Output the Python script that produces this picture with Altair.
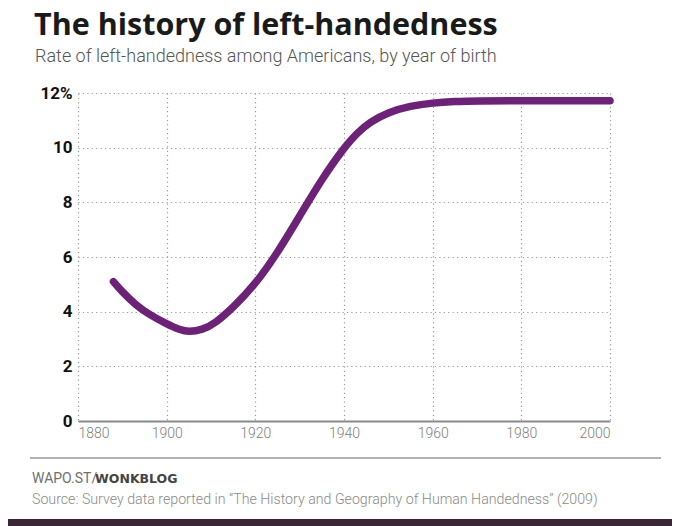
import altair as alt
import pandas as pd

# ---- data ----
years = [1888, 1890, 1893, 1896, 1900, 1903, 1905, 1908, 1911, 1915, 1920, 1925,
         1930, 1935, 1940, 1943, 1946, 1950, 1955, 1960, 1965, 1970, 1980, 1990, 2000]
rates = [5.1, 4.72, 4.25, 3.9, 3.55, 3.33, 3.26, 3.33, 3.58, 4.15, 5.0, 6.15,
         7.5, 8.85, 10.0, 10.55, 10.95, 11.3, 11.53, 11.64, 11.69, 11.71, 11.72, 11.72, 11.72]
x_ticks = [1880, 1900, 1920, 1940, 1960, 1980, 2000]
y_ticks = [0, 2, 4, 6, 8, 10, 12]

title_text = "The history of left-handedness"
subtitle_text = "Rate of left-handedness among Americans, by year of birth"
credit_a = "WAPO.ST/"
credit_b = "WONKBLOG"
source_text = "Source: Survey data reported in \u201cThe History and Geography of Human Handedness\u201d (2009)"

df = pd.DataFrame({"year": years, "rate": rates})

W, H = 532, 328
FONT = "Roboto"

x_enc = alt.X("year:Q",
              scale=alt.Scale(domain=[1880, 2000], nice=False, zero=False),
              axis=alt.Axis(values=x_ticks, format="d", title=None, ticks=False,
                            domain=True, domainColor="#8a8a8a", domainWidth=2,
                            grid=True, gridColor="#9a9a9a", gridDash=[1.2, 3.2], gridWidth=1.2,
                            labelColor="#808080", labelFont=FONT, labelFontSize=14,
                            labelFontWeight=300, labelPadding=5))
y_enc = alt.Y("rate:Q",
              scale=alt.Scale(domain=[0, 12], nice=False),
              axis=alt.Axis(values=y_ticks, title=None, ticks=False, domain=False,
                            grid=True, gridColor="#9a9a9a", gridDash=[1.2, 3.2], gridWidth=1.2,
                            labelColor="#111111", labelFont=FONT, labelFontSize=17,
                            labelFontWeight="bold", labelPadding=6,
                            labelExpr="datum.value == 12 ? '12%' : datum.label"))

line = alt.Chart(df).mark_line(color="#6c2277", strokeWidth=7.5, strokeCap="round",
                               strokeJoin="round", interpolate="basis").encode(x=x_enc, y=y_enc)


def txt(s, x, y, size, weight, color, font=FONT):
    return alt.Chart(pd.DataFrame({"t": [s]})).mark_text(
        align="left", baseline="alphabetic", font=font, fontSize=size,
        fontWeight=weight, color=color).encode(
        text="t:N", x=alt.value(x), y=alt.value(y))


title = txt(title_text, -44, -58, 30.5, "bold", "#1a1a1a", "Open Sans")
subtitle = txt(subtitle_text, -43, -31, 18, 300, "#555555")
cred_a = txt(credit_a, -46, 390, 14, 400, "#707070")
cred_b = txt(credit_b, 17, 390, 12.5, "bold", "#444444", "DejaVu Sans")
source = txt(source_text, -46, 411, 14.2, 300, "#8a8a8a")

rule = alt.Chart(pd.DataFrame({"a": [0]})).mark_rule(color="#9a9a9a", strokeWidth=1.5).encode(
    x=alt.value(-48), x2=alt.value(583), y=alt.value(365))

bar = alt.Chart(pd.DataFrame({"a": [0]})).mark_rect(color="#3a2637").encode(
    x=alt.value(-78), x2=alt.value(594), y=alt.value(426), y2=alt.value(433))

chart = alt.layer(line, title, subtitle, cred_a, cred_b, source, rule, bar).properties(
    width=W, height=H,
    autosize=alt.AutoSizeParams(type="none"),
    padding={"left": 70, "top": 85, "right": 62, "bottom": 105},
    background="white",
).configure_view(stroke=None)

chart.save("out.html", embed_options={"renderer": "svg", "actions": False})
